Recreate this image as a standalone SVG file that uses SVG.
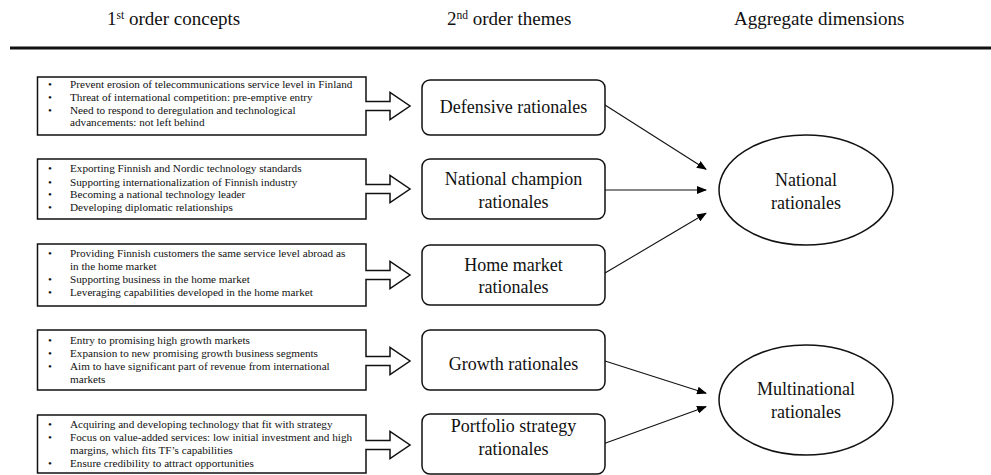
<svg xmlns="http://www.w3.org/2000/svg" width="991" height="475" viewBox="0 0 991 475" font-family="'Liberation Serif', 'Times New Roman', Times, serif">
<defs>
<marker id="ah" markerWidth="10" markerHeight="8" refX="9" refY="4" orient="auto" markerUnits="userSpaceOnUse">
<path d="M0,0 L10,4 L0,8 Z" fill="#000"/>
</marker>
<style>
text{font-family:'Liberation Serif','Times New Roman',Times,serif;fill:#111}
.hd{font-size:19px}
.sup{font-size:11.5px}
.li{font-size:11.2px}
.th{font-size:18px;text-anchor:middle}
.box{fill:#fff;stroke:#111;stroke-width:1.5}
.rb{fill:#fff;stroke:#111;stroke-width:1.5}
.con line{stroke:#111;stroke-width:1.1;marker-end:url(#ah)}
</style>
</defs>
<rect width="991" height="475" fill="#fff"/>
<g id="header">
<text class="hd" x="107" y="25">1<tspan class="sup" dy="-6">st</tspan><tspan dy="6"> order concepts</tspan></text>
<text class="hd" x="447" y="25">2<tspan class="sup" dy="-6">nd</tspan><tspan dy="6"> order themes</tspan></text>
<text class="hd" x="734" y="25">Aggregate dimensions</text>
<line x1="10" y1="48" x2="991" y2="48" stroke="#111" stroke-width="3"/>
</g>
<g id="c1">
<path class="box" d="M366,101.5 V77 H37.5 V135 H366 V110.5 H390 V119.5 L410,106 L390,92.5 V101.5 Z"/>
<text class="li"><tspan x="48" y="88.3">•</tspan><tspan x="70" y="88.3">Prevent erosion of telecommunications service level in Finland</tspan><tspan x="48" y="101">•</tspan><tspan x="70" y="101">Threat of international competition: pre-emptive entry</tspan><tspan x="48" y="113.5">•</tspan><tspan x="70" y="113.5">Need to respond to deregulation and technological</tspan><tspan x="70" y="126">advancements: not left behind</tspan></text>
</g>
<g id="c2">
<path class="box" d="M366,184.5 V159 H37.5 V219 H366 V193.5 H390 V202.5 L410,189 L390,175.5 V184.5 Z"/>
<text class="li"><tspan x="48" y="172.3">•</tspan><tspan x="70" y="172.3">Exporting Finnish and Nordic technology standards</tspan><tspan x="48" y="185.5">•</tspan><tspan x="70" y="185.5">Supporting internationalization of Finnish industry</tspan><tspan x="48" y="198.3">•</tspan><tspan x="70" y="198.3">Becoming a national technology leader</tspan><tspan x="48" y="211">•</tspan><tspan x="70" y="211">Developing diplomatic relationships</tspan></text>
</g>
<g id="c3">
<path class="box" d="M366,270.5 V244 H37.5 V306 H366 V279.5 H390 V288.5 L410,275 L390,261.5 V270.5 Z"/>
<text class="li"><tspan x="48" y="256.7">•</tspan><tspan x="70" y="256.7">Providing Finnish customers the same service level abroad as</tspan><tspan x="70" y="270">in the home market</tspan><tspan x="48" y="283.3">•</tspan><tspan x="70" y="283.3">Supporting business in the home market</tspan><tspan x="48" y="296">•</tspan><tspan x="70" y="296">Leveraging capabilities developed in the home market</tspan></text>
</g>
<g id="c4">
<path class="box" d="M366,356.5 V330 H37.5 V390 H366 V365.5 H390 V374.5 L410,361 L390,347.5 V356.5 Z"/>
<text class="li"><tspan x="48" y="344">•</tspan><tspan x="70" y="344">Entry to promising high growth markets</tspan><tspan x="48" y="357.3">•</tspan><tspan x="70" y="357.3">Expansion to new promising growth business segments</tspan><tspan x="48" y="370">•</tspan><tspan x="70" y="370">Aim to have significant part of revenue from international</tspan><tspan x="70" y="382.7">markets</tspan></text>
</g>
<g id="c5">
<path class="box" d="M366,440.5 V415 H37.5 V473 H366 V449.5 H390 V458.5 L410,445 L390,431.5 V440.5 Z"/>
<text class="li"><tspan x="48" y="428">•</tspan><tspan x="70" y="428">Acquiring and developing technology that fit with strategy</tspan><tspan x="48" y="440.7">•</tspan><tspan x="70" y="440.7">Focus on value-added services: low initial investment and high</tspan><tspan x="70" y="453.5">margins, which fits TF’s capabilities</tspan><tspan x="48" y="466.5">•</tspan><tspan x="70" y="466.5">Ensure credibility to attract opportunities</tspan></text>
</g>
<g id="t1"><rect class="rb" x="422" y="80" width="183" height="55" rx="8"/><text class="th" x="513.5" y="113">Defensive rationales</text></g>
<g id="t2"><rect class="rb" x="422" y="159" width="183" height="60" rx="8"/><text class="th" x="513.5" y="185">National champion</text><text class="th" x="513.5" y="208">rationales</text></g>
<g id="t3"><rect class="rb" x="422" y="245" width="183" height="60" rx="8"/><text class="th" x="513.5" y="270.7">Home market</text><text class="th" x="513.5" y="293.3">rationales</text></g>
<g id="t4"><rect class="rb" x="422" y="330" width="183" height="60" rx="8"/><text class="th" x="513.5" y="369.5">Growth rationales</text></g>
<g id="t5"><rect class="rb" x="422" y="414" width="183" height="60" rx="8"/><text class="th" x="513.5" y="431.7">Portfolio strategy</text><text class="th" x="513.5" y="455">rationales</text></g>
<g id="a1"><ellipse class="rb" cx="806" cy="190" rx="87" ry="55"/><text class="th" x="806" y="186">National</text><text class="th" x="806" y="209.3">rationales</text></g>
<g id="a2"><ellipse class="rb" cx="806" cy="400" rx="87" ry="55"/><text class="th" x="806" y="395">Multinational</text><text class="th" x="806" y="418.3">rationales</text></g>
<g id="connectors" class="con">
<line x1="605" y1="105" x2="706" y2="169.3"/>
<line x1="605" y1="190" x2="706" y2="190"/>
<line x1="605" y1="273" x2="706" y2="213.3"/>
<line x1="605" y1="361" x2="706" y2="393.3"/>
<line x1="605" y1="443.3" x2="706" y2="406.7"/>
</g>
</svg>
